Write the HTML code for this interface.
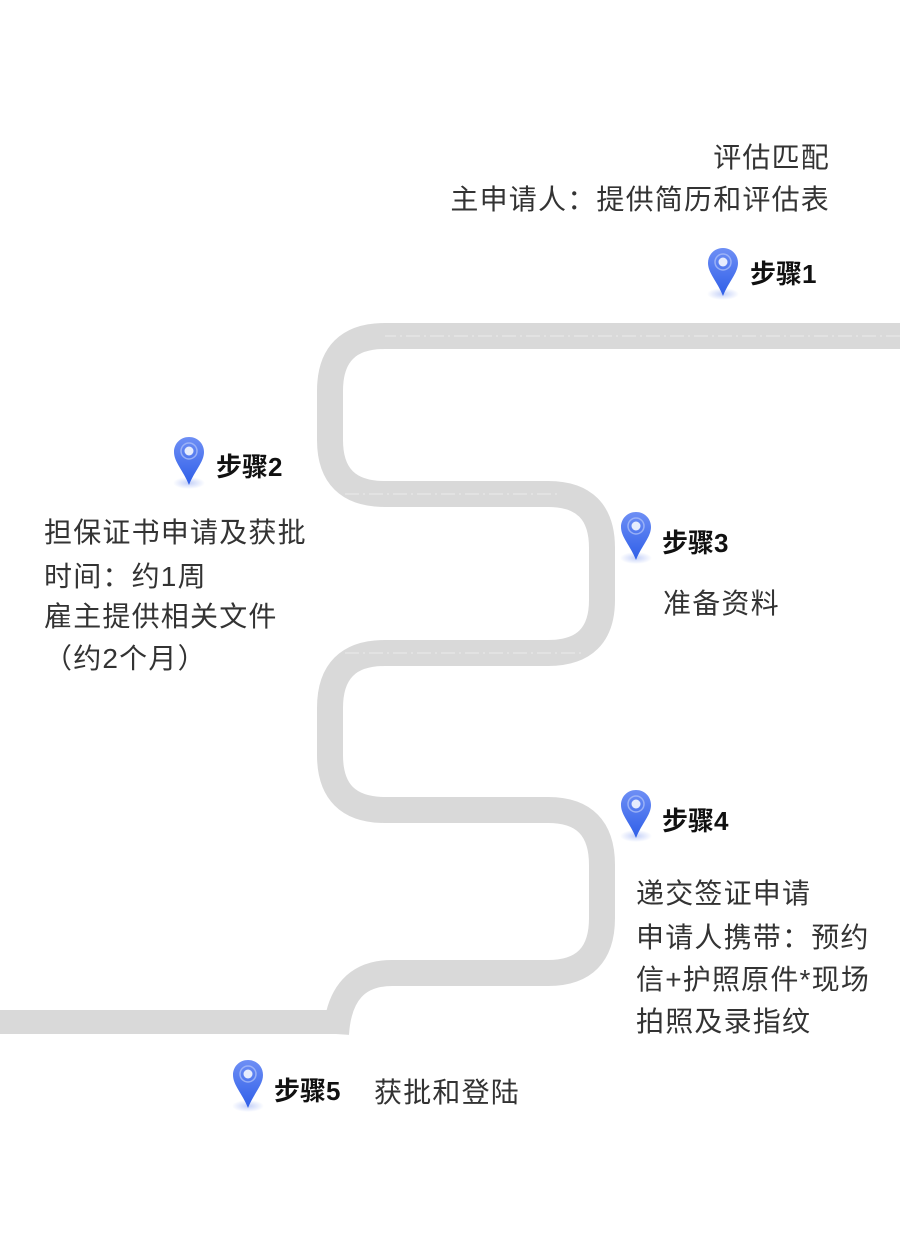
<!DOCTYPE html>
<html><head><meta charset="utf-8"><style>
html,body{margin:0;padding:0;background:#fff;}
svg{display:block;}
.t{font-family:"Liberation Sans","Noto Sans CJK SC",sans-serif;font-size:28px;fill:#333;letter-spacing:1.2px;}
.s{font-family:"Liberation Sans","Noto Sans CJK SC",sans-serif;font-size:26px;font-weight:bold;fill:#111;}
</style></head><body>
<svg width="900" height="1234" viewBox="0 0 900 1234" xmlns="http://www.w3.org/2000/svg">
<defs>
<linearGradient id="pg" x1="0" y1="0" x2="0" y2="1">
<stop offset="0" stop-color="#6e8ff5"/><stop offset="1" stop-color="#2f5fe8"/>
</linearGradient>
<radialGradient id="sh" cx="0.5" cy="0.5" r="0.5">
<stop offset="0" stop-color="#3a63e8" stop-opacity="0.3"/><stop offset="1" stop-color="#3a63e8" stop-opacity="0"/>
</radialGradient>
<g id="pin">
<ellipse cx="15" cy="46" rx="16" ry="6" fill="url(#sh)"/>
<path d="M15 0 C6.5 0 0 6.5 0 15 C0 25 9 33 15 48 C21 33 30 25 30 15 C30 6.5 23.5 0 15 0 Z" fill="url(#pg)"/>
<circle cx="15" cy="14" r="8" fill="none" stroke="#a9bdf8" stroke-width="1.5" opacity="0.8"/>
<circle cx="15" cy="14" r="4.5" fill="#e6ecfd"/>
</g>
</defs>
<g fill="none" stroke="#d9d9d9" stroke-width="26">
<path d="M900 336 L385 336 Q330 336 330 391 L330 440 Q330 494 385 494 L548 494 Q602 494 602 548 L602 600 Q602 653 548 653 L385 653 Q330 653 330 708 L330 755 Q330 810 385 810 L548 810 Q602 810 602 865 L602 918 Q602 973 548 973 L392 973 Q340 973 336 1034"/>
</g>
<rect x="0" y="1010" width="336" height="24" fill="#d9d9d9"/>
<g fill="none" stroke="#fff" stroke-width="1" stroke-dasharray="14 4 2 4" opacity="0.5">
<path d="M900 336 L385 336"/>
<path d="M345 494 L560 494"/>
<path d="M345 653 L585 653"/>
</g>
<use href="#pin" x="708" y="248"/>
<use href="#pin" x="174" y="437"/>
<use href="#pin" x="621" y="512"/>
<use href="#pin" x="621" y="790"/>
<use href="#pin" x="233" y="1060"/>
<text class="s" x="750" y="283">步骤1</text>
<text class="s" x="216" y="476">步骤2</text>
<text class="s" x="662" y="552">步骤3</text>
<text class="s" x="662" y="830">步骤4</text>
<text class="s" x="274" y="1100">步骤5</text>
<text class="t" x="830" y="167" text-anchor="end">评估匹配</text>
<text class="t" x="830" y="209" text-anchor="end">主申请人：提供简历和评估表</text>
<text class="t" x="44" y="542">担保证书申请及获批</text>
<text class="t" x="44" y="586">时间：约1周</text>
<text class="t" x="44" y="626">雇主提供相关文件</text>
<text class="t" x="44" y="668">（约2个月）</text>
<text class="t" x="663" y="613">准备资料</text>
<text class="t" x="636" y="903">递交签证申请</text>
<text class="t" x="636" y="947">申请人携带：预约</text>
<text class="t" x="636" y="989">信+护照原件*现场</text>
<text class="t" x="636" y="1031">拍照及录指纹</text>
<text class="t" x="374" y="1102">获批和登陆</text>
</svg>
</body></html>
